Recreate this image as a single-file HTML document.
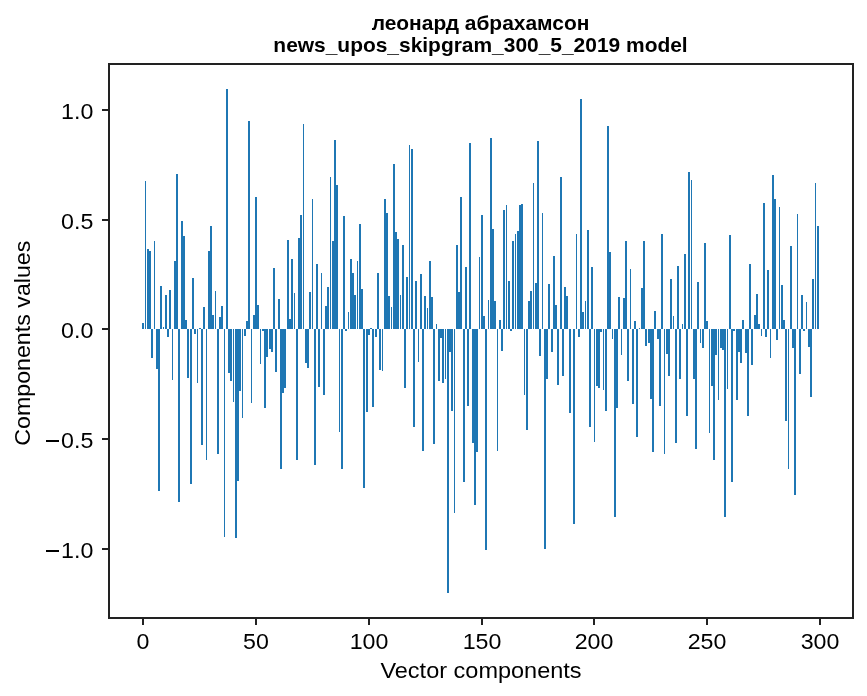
<!DOCTYPE html>
<html><head><meta charset="utf-8"><title>chart</title>
<style>
html,body{margin:0;padding:0;background:#fff;}
body{width:867px;height:696px;overflow:hidden;}
svg{display:block;will-change:transform;}
text{font-family:"Liberation Sans",sans-serif;fill:#000;}
.t{font-size:22.8px;}
.l{font-size:22.6px;}
.h{font-size:20.95px;font-weight:bold;}
</style></head><body>
<svg width="867" height="696" viewBox="0 0 867 696">
<rect width="867" height="696" fill="#fff"/>
<path d="M142 323h2v6h-2zM145 181h1v148h-1zM147 249h2v80h-2zM149 251h2v78h-2zM151 329h2v29h-2zM154 241h1v88h-1zM156 329h2v40h-2zM158 329h2v162h-2zM160 286h2v43h-2zM163 327h1v2h-1zM165 295h2v34h-2zM167 329h2v8h-2zM169 290h2v39h-2zM172 329h1v51h-1zM174 261h2v68h-2zM176 174h2v155h-2zM178 329h2v173h-2zM181 221h2v108h-2zM183 236h2v93h-2zM185 320h2v9h-2zM187 329h2v49h-2zM190 329h2v155h-2zM192 278h2v51h-2zM194 329h2v5h-2zM197 329h1v54h-1zM199 328h2v1h-2zM201 329h2v116h-2zM203 307h2v22h-2zM206 329h1v131h-1zM208 251h2v78h-2zM210 226h2v103h-2zM212 315h2v14h-2zM215 291h1v38h-1zM217 329h2v125h-2zM219 317h2v12h-2zM221 306h2v23h-2zM224 329h1v208h-1zM226 89h2v240h-2zM228 329h2v44h-2zM230 329h2v52h-2zM233 329h1v73h-1zM235 329h2v209h-2zM237 329h2v152h-2zM239 329h2v62h-2zM242 329h1v89h-1zM244 329h2v7h-2zM246 321h2v8h-2zM248 121h2v208h-2zM251 329h1v74h-1zM253 315h2v14h-2zM255 197h2v132h-2zM257 305h2v24h-2zM260 329h1v35h-1zM262 329h2v2h-2zM264 329h2v79h-2zM266 329h2v28h-2zM269 329h2v20h-2zM271 329h2v23h-2zM273 268h2v61h-2zM275 329h2v43h-2zM278 299h2v30h-2zM280 329h2v140h-2zM282 329h2v64h-2zM284 329h2v59h-2zM287 240h2v89h-2zM289 319h2v10h-2zM291 259h2v70h-2zM294 293h1v36h-1zM296 329h2v131h-2zM298 238h2v91h-2zM300 215h2v114h-2zM303 124h1v205h-1zM305 329h2v34h-2zM307 329h2v39h-2zM309 292h2v37h-2zM312 199h1v130h-1zM314 329h2v136h-2zM316 264h2v65h-2zM318 329h2v58h-2zM321 273h1v56h-1zM323 329h2v66h-2zM325 306h2v23h-2zM327 287h2v42h-2zM330 177h1v152h-1zM332 241h2v88h-2zM334 140h2v189h-2zM336 185h2v144h-2zM339 329h1v103h-1zM341 329h2v140h-2zM343 216h2v113h-2zM345 329h2v2h-2zM348 312h1v17h-1zM350 259h2v70h-2zM352 273h2v56h-2zM354 295h2v34h-2zM357 261h1v68h-1zM359 224h2v105h-2zM361 289h2v40h-2zM363 329h2v159h-2zM366 329h2v83h-2zM368 329h2v6h-2zM370 328h2v1h-2zM372 329h2v78h-2zM375 329h2v8h-2zM377 273h2v56h-2zM379 329h2v41h-2zM382 329h1v42h-1zM384 199h2v130h-2zM386 213h2v116h-2zM388 296h2v33h-2zM391 307h1v22h-1zM393 164h2v165h-2zM395 232h2v97h-2zM397 239h2v90h-2zM400 295h1v34h-1zM402 245h2v84h-2zM404 329h2v59h-2zM406 277h2v52h-2zM409 145h1v184h-1zM411 149h2v180h-2zM413 329h2v98h-2zM415 281h2v48h-2zM418 329h1v33h-1zM420 274h2v55h-2zM422 329h2v122h-2zM424 296h2v33h-2zM427 308h1v21h-1zM429 261h2v68h-2zM431 297h2v32h-2zM433 329h2v115h-2zM436 324h1v5h-1zM438 329h2v52h-2zM440 329h2v9h-2zM442 329h2v54h-2zM445 329h1v50h-1zM447 329h2v264h-2zM449 329h2v23h-2zM451 329h2v82h-2zM454 329h1v184h-1zM456 245h2v84h-2zM458 292h2v37h-2zM460 197h2v132h-2zM463 329h2v153h-2zM465 267h2v62h-2zM467 329h2v77h-2zM469 143h2v186h-2zM472 329h2v114h-2zM474 329h2v176h-2zM476 329h2v123h-2zM479 257h1v72h-1zM481 215h2v114h-2zM483 316h2v13h-2zM485 329h2v221h-2zM488 300h1v29h-1zM490 138h2v191h-2zM492 229h2v100h-2zM494 301h2v28h-2zM497 329h1v122h-1zM499 320h2v9h-2zM501 329h2v22h-2zM503 210h2v119h-2zM506 205h1v124h-1zM508 281h2v48h-2zM510 329h2v2h-2zM512 241h2v88h-2zM515 234h1v95h-1zM517 231h2v98h-2zM519 205h2v124h-2zM521 204h2v125h-2zM524 329h1v66h-1zM526 329h2v101h-2zM528 301h2v28h-2zM530 291h2v38h-2zM533 183h1v146h-1zM535 283h2v46h-2zM537 141h2v188h-2zM539 329h2v27h-2zM542 213h1v116h-1zM544 329h2v220h-2zM546 329h2v50h-2zM548 284h2v45h-2zM551 329h2v23h-2zM553 256h2v73h-2zM555 305h2v24h-2zM557 329h2v56h-2zM560 177h2v152h-2zM562 329h2v47h-2zM564 287h2v42h-2zM566 296h2v33h-2zM569 329h2v84h-2zM573 329h2v195h-2zM576 234h1v95h-1zM578 329h2v8h-2zM580 99h2v230h-2zM582 312h2v17h-2zM585 301h1v28h-1zM587 230h2v99h-2zM589 329h2v98h-2zM591 267h2v62h-2zM594 329h1v113h-1zM596 329h2v57h-2zM598 329h2v59h-2zM600 329h2v3h-2zM603 329h1v61h-1zM605 329h2v82h-2zM607 126h2v203h-2zM609 252h2v77h-2zM612 329h1v10h-1zM614 329h2v188h-2zM616 329h2v79h-2zM618 297h2v32h-2zM621 329h1v26h-1zM623 298h2v31h-2zM625 241h2v88h-2zM627 329h2v52h-2zM630 269h1v60h-1zM632 329h2v75h-2zM634 321h2v8h-2zM636 329h2v108h-2zM639 328h1v1h-1zM641 288h2v41h-2zM643 241h2v88h-2zM645 329h2v17h-2zM648 329h2v14h-2zM650 329h2v70h-2zM652 329h2v123h-2zM654 311h2v18h-2zM657 329h2v10h-2zM659 329h2v77h-2zM661 234h2v95h-2zM664 329h1v125h-1zM666 329h2v25h-2zM668 329h2v47h-2zM670 279h2v50h-2zM673 316h1v13h-1zM675 329h2v114h-2zM677 266h2v63h-2zM679 329h2v50h-2zM682 324h1v5h-1zM684 254h2v75h-2zM686 329h2v87h-2zM688 172h2v157h-2zM691 180h1v149h-1zM693 329h2v50h-2zM695 329h2v120h-2zM697 282h2v47h-2zM700 329h1v14h-1zM702 329h2v19h-2zM704 243h2v86h-2zM706 321h2v8h-2zM709 329h1v104h-1zM711 329h2v57h-2zM713 329h2v131h-2zM715 329h2v26h-2zM718 329h1v71h-1zM720 329h2v19h-2zM722 329h2v21h-2zM724 329h2v188h-2zM727 329h1v60h-1zM729 235h2v94h-2zM731 329h2v153h-2zM733 329h2v2h-2zM736 329h2v71h-2zM738 329h2v23h-2zM740 329h2v34h-2zM742 320h2v9h-2zM745 329h2v24h-2zM747 329h2v87h-2zM749 264h2v65h-2zM751 329h2v36h-2zM754 315h2v14h-2zM756 294h2v35h-2zM758 324h2v5h-2zM761 329h1v7h-1zM763 203h2v126h-2zM765 329h2v8h-2zM767 270h2v59h-2zM770 329h1v29h-1zM772 175h2v154h-2zM774 199h2v130h-2zM776 329h2v11h-2zM779 207h1v122h-1zM781 285h2v44h-2zM783 320h2v9h-2zM785 329h2v92h-2zM788 329h1v140h-1zM790 246h2v83h-2zM792 329h2v19h-2zM794 329h2v166h-2zM797 214h1v115h-1zM799 329h2v45h-2zM801 295h2v34h-2zM803 329h2v2h-2zM806 302h1v27h-1zM808 329h2v18h-2zM810 329h2v68h-2zM812 279h2v50h-2zM815 183h1v146h-1zM817 226h2v103h-2z" fill="#1f77b4" shape-rendering="crispEdges"/>
<g fill="#222" shape-rendering="crispEdges">
<rect x="108" y="63" width="2" height="556"/>
<rect x="852" y="63" width="2" height="556"/>
<rect x="108" y="63" width="746" height="2"/>
<rect x="108" y="617" width="746" height="2"/>

<rect x="142" y="618" width="2" height="7"/>
<rect x="255" y="618" width="2" height="7"/>
<rect x="368" y="618" width="2" height="7"/>
<rect x="481" y="618" width="2" height="7"/>
<rect x="593" y="618" width="2" height="7"/>
<rect x="706" y="618" width="2" height="7"/>
<rect x="819" y="618" width="2" height="7"/>
<rect x="102" y="109" width="7" height="2"/>
<rect x="102" y="219" width="7" height="2"/>
<rect x="102" y="328" width="7" height="2"/>
<rect x="102" y="438" width="7" height="2"/>
<rect x="102" y="548" width="7" height="2"/>
</g>

<text class="t" transform="translate(143 648.5) scale(1.0185 1)" text-anchor="middle">0</text>
<text class="t" transform="translate(256 648.5) scale(1.0185 1)" text-anchor="middle">50</text>
<text class="t" transform="translate(369 648.5) scale(1.0185 1)" text-anchor="middle">100</text>
<text class="t" transform="translate(482 648.5) scale(1.0185 1)" text-anchor="middle">150</text>
<text class="t" transform="translate(594 648.5) scale(1.0185 1)" text-anchor="middle">200</text>
<text class="t" transform="translate(707 648.5) scale(1.0185 1)" text-anchor="middle">250</text>
<text class="t" transform="translate(820 648.5) scale(1.0185 1)" text-anchor="middle">300</text>
<text class="t" transform="translate(93.3 118.7) scale(1.0185 1)" text-anchor="end">1.0</text>
<text class="t" transform="translate(93.3 228.7) scale(1.0185 1)" text-anchor="end">0.5</text>
<text class="t" transform="translate(93.3 337.7) scale(1.0185 1)" text-anchor="end">0.0</text>
<rect x="46" y="440" width="13" height="2" fill="#000"/>
<text class="t" transform="translate(93.3 447.7) scale(1.0185 1)" text-anchor="end">0.5</text>
<rect x="46" y="550" width="13" height="2" fill="#000"/>
<text class="t" transform="translate(93.3 557.7) scale(1.0185 1)" text-anchor="end">1.0</text>
<text class="l" transform="translate(481 677.6) scale(1.0406 1)" text-anchor="middle">Vector components</text>
<text class="l" transform="translate(30.0 343.2) rotate(-90) scale(1.0275 1)" text-anchor="middle">Components values</text>
<text class="h" transform="translate(480.5 29.7) scale(1.0 1)" text-anchor="middle">леонард абрахамсон</text>
<text class="h" transform="translate(480.5 51.5) scale(1.0 1)" text-anchor="middle">news_upos_skipgram_300_5_2019 model</text>
</svg></body></html>
